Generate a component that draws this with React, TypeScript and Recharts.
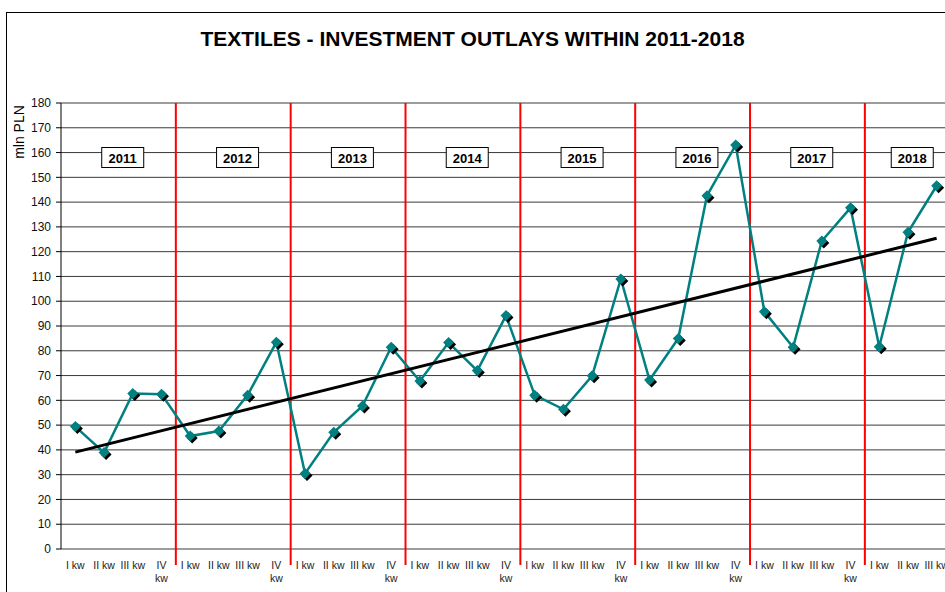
import React from "react";
import {
  LineChart,
  Line,
  XAxis,
  YAxis,
  CartesianGrid,
  ReferenceLine,
  ReferenceDot,
} from "recharts";

const YEARS = [2011, 2012, 2013, 2014, 2015, 2016, 2017, 2018];
const QUARTERS = ["I kw", "II kw", "III kw", "IV kw"];

// mln PLN per quarter
const OUTLAYS_2011 = [49.4, 38.9, 62.8, 62.5];
const OUTLAYS_2012 = [45.6, 47.6, 62.1, 83.4];
const OUTLAYS_2013 = [30.5, 47.1, 57.7, 81.4];
const OUTLAYS_2014 = [67.8, 83.3, 72.0, 94.2];
const OUTLAYS_2015 = [62.1, 56.4, 69.9, 109.0];
const OUTLAYS_2016 = [68.2, 85.0, 142.6, 163.0];
const OUTLAYS_2017 = [95.8, 81.4, 124.3, 137.7];
const OUTLAYS_2018 = [81.6, 127.8, 146.6];

const OUTLAYS_BY_YEAR = [
  OUTLAYS_2011,
  OUTLAYS_2012,
  OUTLAYS_2013,
  OUTLAYS_2014,
  OUTLAYS_2015,
  OUTLAYS_2016,
  OUTLAYS_2017,
  OUTLAYS_2018,
];

// linear trend, read at first and last quarter
const TREND_FIRST = 39.1;
const TREND_LAST = 125.4;

const Y_TICKS = [0, 10, 20, 30, 40, 50, 60, 70, 80, 90, 100, 110, 120, 130, 140, 150, 160, 170, 180];

const FONT = "'Liberation Sans', Arial, sans-serif";
const TEAL = "#008080";

type Row = {
  idx: number;
  year: number;
  quarter: string;
  value: number;
  trend: number | null;
};

const ROWS: Row[] = [];
YEARS.forEach((year, yi) => {
  OUTLAYS_BY_YEAR[yi].forEach((value, qi) => {
    ROWS.push({ idx: ROWS.length, year, quarter: QUARTERS[qi], value, trend: null });
  });
});
ROWS[0].trend = TREND_FIRST;
ROWS[ROWS.length - 1].trend = TREND_LAST;

const LAST = ROWS.length - 1;
const DOMAIN: [number, number] = [-0.5, LAST + 0.5];
const BOUNDS = [...ROWS.map((r) => r.idx - 0.5), LAST + 0.5];
const YEAR_STARTS = ROWS.filter((r) => r.idx > 0 && r.quarter === QUARTERS[0]).map(
  (r) => r.idx - 0.5
);
const YEAR_MIDS = YEARS.map((y) => {
  const q = ROWS.filter((r) => r.year === y);
  return (q[0].idx + q[q.length - 1].idx) / 2 + 0.15;
});

function Marker(props: any) {
  const { cx, cy, index } = props;
  if (cx == null || cy == null) return <g key={`m${index}`} />;
  const s = 5.5;
  const d = (x: number, y: number) =>
    `M${x},${y - s}L${x + s},${y}L${x},${y + s}L${x - s},${y}Z`;
  return (
    <g key={`m${index}`}>
      <path d={d(cx + 2, cy + 2)} fill="#000" />
      <path d={d(cx, cy)} fill={TEAL} />
    </g>
  );
}

function QuarterTick(props: any) {
  const { x, y, payload } = props;
  const row = ROWS[payload.value];
  if (!row) return null;
  const lines = row.quarter.startsWith("IV") ? row.quarter.split(" ") : [row.quarter];
  return (
    <g>
      {lines.map((t, i) => (
        <text
          key={i}
          x={x}
          y={y + 20 + i * 12.5}
          textAnchor="middle"
          fontSize={10.5}
          fontFamily={FONT}
          fill="#222"
        >
          {t}
        </text>
      ))}
    </g>
  );
}

function YearBox(props: any) {
  const { cx, cy, year } = props;
  return (
    <g>
      <rect x={cx - 21} y={cy - 10} width={42} height={20} fill="#fff" stroke="#000" strokeWidth={1} />
      <text
        x={cx}
        y={cy + 5}
        textAnchor="middle"
        fontSize={13}
        fontWeight="bold"
        fontFamily={FONT}
        fill="#000"
      >
        {year}
      </text>
    </g>
  );
}

function UnitLabel() {
  return (
    <text
      transform="translate(24,132) rotate(-90)"
      textAnchor="middle"
      fontSize={14}
      fontFamily={FONT}
      fill="#000"
    >
      mln PLN
    </text>
  );
}

export default function App() {
  return (
    <div
      style={{
        position: "absolute",
        left: 0,
        top: 0,
        width: 945,
        height: 592,
        overflow: "hidden",
        background: "#fff",
        fontFamily: FONT,
      }}
    >
      <div
        style={{
          position: "absolute",
          left: 6,
          top: 12,
          width: 1000,
          height: 700,
          border: "1px solid #000",
        }}
      />
      <div
        style={{
          position: "absolute",
          left: 0,
          top: 26,
          width: 945,
          textAlign: "center",
          fontSize: 21,
          lineHeight: "26px",
          fontWeight: "bold",
          color: "#000",
        }}
      >
        TEXTILES - INVESTMENT OUTLAYS WITHIN 2011-2018
      </div>
      <div style={{ position: "absolute", left: 0, top: 0 }}>
        <LineChart
          width={960}
          height={592}
          data={ROWS}
          margin={{ top: 103, right: 9, left: 0, bottom: 13 }}
        >
          <CartesianGrid vertical={false} stroke="#3a3a3a" strokeWidth={1} />
          <XAxis
            xAxisId="b"
            type="number"
            dataKey="idx"
            domain={DOMAIN}
            ticks={BOUNDS}
            interval={0}
            tick={false}
            tickSize={5}
            height={0}
            stroke="#000"
            axisLine={{ stroke: "#000" }}
            tickLine={{ stroke: "#000" }}
          />
          <XAxis
            xAxisId="q"
            type="number"
            dataKey="idx"
            domain={DOMAIN}
            ticks={ROWS.map((r) => r.idx)}
            interval={0}
            tick={<QuarterTick />}
            tickLine={false}
            axisLine={false}
            tickSize={0}
            tickMargin={0}
            height={30}
          />
          <YAxis
            type="number"
            domain={[0, 180]}
            ticks={Y_TICKS}
            interval={0}
            width={61}
            tickSize={5}
            tickMargin={5}
            axisLine={{ stroke: "#000" }}
            tickLine={{ stroke: "#000" }}
            tick={{ fontSize: 12, fontFamily: FONT, fill: "#111" }}
            label={<UnitLabel />}
          />
          {YEAR_STARTS.map((b) => (
            <ReferenceLine
              key={b}
              xAxisId="q"
              segment={[
                { x: b, y: 180 },
                { x: b, y: -6.5 },
              ]}
              ifOverflow="visible"
              stroke="#ff0000"
              strokeWidth={2}
            />
          ))}
          <Line
            xAxisId="q"
            type="linear"
            dataKey="value"
            stroke={TEAL}
            strokeWidth={2.5}
            dot={Marker}
            activeDot={false}
            isAnimationActive={false}
          />
          <Line
            xAxisId="q"
            type="linear"
            dataKey="trend"
            stroke="#000"
            strokeWidth={3}
            dot={false}
            activeDot={false}
            connectNulls
            isAnimationActive={false}
          />
          {YEARS.map((year, i) => (
            <ReferenceDot
              key={year}
              xAxisId="q"
              x={YEAR_MIDS[i]}
              y={158}
              r={0}
              ifOverflow="visible"
              shape={(p: any) => <YearBox {...p} year={year} />}
            />
          ))}
        </LineChart>
      </div>
    </div>
  );
}
